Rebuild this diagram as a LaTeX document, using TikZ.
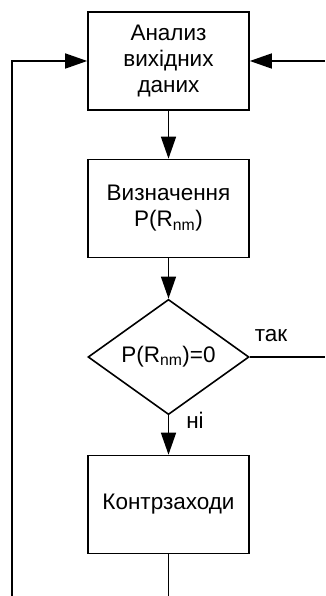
\documentclass[tikz,border=0pt]{standalone}
\usepackage{fontspec}
\setmainfont{Liberation Sans}
\usetikzlibrary{shapes.geometric,arrows.meta}
\begin{document}
\begin{tikzpicture}[x=1pt,y=1pt,
  every node/.style={font=\fontsize{22.5}{26}\selectfont},
  blockbox/.style={draw,line width=1.6pt,minimum width=161pt,minimum height=98pt,inner sep=0pt,align=center},
  decision/.style={draw,diamond,line width=1.6pt,minimum width=161pt,minimum height=98pt,inner sep=0pt},
  flow/.style={line width=1.5pt,-{Triangle[length=22pt,width=15pt]}},
  plain/.style={line width=1.5pt}]
\useasboundingbox (0,0) rectangle (325,-596);

\node[blockbox] (analiz) at (168.5,-61) {Анализ\\вихідних\\даних};
\node[blockbox] (vyzn) at (168.5,-208.5) {Визначення\\P(R\textsubscript{nm})};
\node[decision] (cond) at (168.5,-357) {P(R\textsubscript{nm})=0};
\node[blockbox] (kontr) at (168.5,-504.5) {Контрзаходи};

\coordinate (loopbot) at (12,-596);
\coordinate (loopturn) at (12,-61);
\coordinate (rightin) at (325,-61);
\coordinate (yesout) at (325,-357);
\coordinate (kontrout) at (168.5,-596);

\draw[flow] (analiz) -- (vyzn);
\draw[flow] (vyzn) -- (cond);
\draw[flow] (cond) -- (kontr);
\draw[flow] (loopbot) -- (loopturn) -- (analiz.west);
\draw[flow] (rightin) -- (analiz.east);
\draw[plain] (cond.east) -- (yesout);
\draw[plain] (kontr.south) -- (kontrout);

\node (tak) at (271,-336) {так};
\node (ni) at (195,-420) {ні};
\end{tikzpicture}
\end{document}
